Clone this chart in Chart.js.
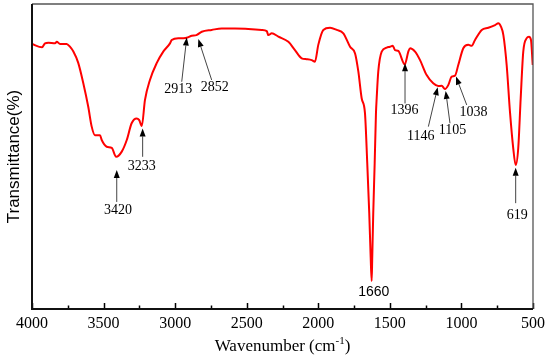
<!DOCTYPE html>
<html>
<head>
<meta charset="utf-8">
<script src="https://cdn.jsdelivr.net/npm/chart.js@4.4.0/dist/chart.umd.min.js"></script>
<style>
  html, body { margin: 0; padding: 0; background: #fff; }
</style>
</head>
<body>
<canvas id="ftirChart" width="550" height="359"></canvas>
<script>
// FTIR spectrum
const wavenumbers = [
  4000, 3930, 3909, 3886, 3839, 3827, 3804, 3758, 3735, 3711, 3677, 3642, 3607, 3583,
  3560, 3525, 3513, 3478, 3443, 3412, 3373, 3338, 3304, 3269, 3252, 3233, 3211, 3176,
  3129, 3083, 3036, 3024, 2978, 2943, 2913, 2884, 2852, 2814, 2745, 2675, 2582, 2489,
  2395, 2360, 2349, 2325, 2279, 2209, 2163, 2116, 2081, 2046, 2023, 2000, 1965, 1918,
  1871, 1825, 1778, 1743, 1720, 1697, 1674, 1658, 1644, 1634, 1627, 1623, 1616, 1606,
  1597, 1592, 1581, 1557, 1522, 1499, 1480, 1464, 1441, 1396, 1371, 1359, 1324, 1289,
  1243, 1197, 1162, 1138, 1115, 1092, 1068, 1045, 1022, 987, 952, 928, 905, 858,
  812, 765, 742, 724, 707, 684, 661, 638, 621, 603, 586, 568, 544, 528, 514, 502
];
const transmittance = [
  86.9, 85.8, 87.1, 87.3, 87.1, 87.6, 86.9, 86.9, 86.0, 84.4, 80.7, 74.1, 66.3, 59.8,
  57.0, 57.0, 55.4, 53.2, 52.8, 49.9, 51.6, 55.4, 60.9, 62.5, 62.0, 60.0, 68.5, 75.1,
  80.6, 84.4, 87.1, 88.2, 88.8, 88.8, 89.0, 89.6, 89.8, 90.9, 91.5, 92.0, 92.0, 91.8,
  91.5, 91.1, 89.8, 90.4, 89.3, 87.6, 84.9, 82.2, 81.9, 81.6, 81.1, 86.6, 91.5, 92.2,
  91.5, 90.4, 86.0, 83.8, 77.8, 69.1, 64.3, 47.9, 31.5, 17.0, 9.2, 17.0, 31.5, 47.9,
  64.3, 69.1, 77.8, 84.4, 85.7, 86.0, 86.3, 84.9, 84.6, 80.2, 84.4, 85.5, 84.4, 81.6,
  76.7, 74.0, 73.1, 73.2, 72.1, 73.4, 76.2, 76.5, 80.0, 85.5, 86.6, 86.3, 88.2, 91.5,
  92.2, 93.1, 93.7, 92.6, 89.8, 80.0, 64.7, 52.7, 47.2, 52.8, 69.1, 84.4, 88.8, 89.3, 88.2, 80.0
];
const xTickLabels = [4000, 3500, 3000, 2500, 2000, 1500, 1000, 500];
const peakLabels = ['3420', '3233', '2913', '2852', '1396', '1146', '1105', '1038', '619'];

// arrow geometry for the peak labels, in data units (wavenumber, %T)
const peakArrows = [
  { tip: [3408, 45.6], tail: [3408, 35.1], label: [3399, 32.5] },
  { tip: [3227, 59.2], tail: [3227, 49.9], label: [3234, 46.9] },
  { tip: [2919, 89.0], tail: [2954, 74.5], label: [2978, 72.0] },
  { tip: [2838, 88.5], tail: [2745, 75.1], label: [2724, 72.7] },
  { tip: [1394, 80.6], tail: [1394, 67.4], label: [1398, 65.2] },
  { tip: [1166, 72.7], tail: [1231, 59.8], label: [1284, 56.5] },
  { tip: [1110, 71.5], tail: [1080, 60.9], label: [1062, 58.7] },
  { tip: [1038, 76.2], tail: [963, 66.9], label: [916, 64.6] },
  { tip: [621, 46.3], tail: [621, 34.7], label: [610, 30.8] }
];

const serif = '"Liberation Serif", "Times New Roman", serif';
const sans = '"Liberation Sans", Arial, sans-serif';

const points = wavenumbers.map((w, i) => ({ x: w, y: transmittance[i] }));

// frame, inward ticks, arrows and axis titles
const ftirDecor = {
  id: 'ftirDecor',
  afterDraw(chart) {
    const ctx = chart.ctx;
    const xs = chart.scales.x, ys = chart.scales.y;
    const a = chart.chartArea;
    ctx.save();

    // ticks pointing into the plot
    ctx.strokeStyle = '#000';
    ctx.lineWidth = 1.5;
    xs.ticks.forEach(t => {
      const px = Math.round(xs.getPixelForValue(t.value)) + 0.5;
      const len = xTickLabels.includes(t.value) ? 6 : 3.5;
      ctx.beginPath();
      ctx.moveTo(px, a.bottom);
      ctx.lineTo(px, a.bottom - len);
      ctx.stroke();
    });

    // box
    ctx.strokeStyle = '#555';
    ctx.lineWidth = 1.3;
    ctx.beginPath();
    ctx.moveTo(a.left, a.top);
    ctx.lineTo(a.right, a.top);
    ctx.lineTo(a.right, a.bottom);
    ctx.stroke();
    ctx.strokeStyle = '#111';
    ctx.lineWidth = 2;
    ctx.beginPath();
    ctx.moveTo(a.left, a.top);
    ctx.lineTo(a.left, a.bottom);
    ctx.lineTo(a.right, a.bottom);
    ctx.stroke();

    // peak arrows
    peakArrows.forEach((p, i) => {
      const tx = xs.getPixelForValue(p.tip[0]), ty = ys.getPixelForValue(p.tip[1]);
      const bx = xs.getPixelForValue(p.tail[0]), by = ys.getPixelForValue(p.tail[1]);
      const ang = Math.atan2(ty - by, tx - bx);
      const headLen = 8, headW = 3;
      const hx = tx - Math.cos(ang) * headLen, hy = ty - Math.sin(ang) * headLen;
      ctx.strokeStyle = '#444';
      ctx.lineWidth = 1;
      ctx.beginPath();
      ctx.moveTo(bx, by);
      ctx.lineTo(hx, hy);
      ctx.stroke();
      ctx.fillStyle = '#000';
      ctx.beginPath();
      ctx.moveTo(tx, ty);
      ctx.lineTo(hx + Math.sin(ang) * headW, hy - Math.cos(ang) * headW);
      ctx.lineTo(hx - Math.sin(ang) * headW, hy + Math.cos(ang) * headW);
      ctx.closePath();
      ctx.fill();

      ctx.font = '14px ' + serif;
      ctx.textAlign = 'center';
      ctx.textBaseline = 'middle';
      ctx.fillText(peakLabels[i], xs.getPixelForValue(p.label[0]), ys.getPixelForValue(p.label[1]));
    });

    // 1660 band label (sans in the original)
    ctx.font = '14px ' + sans;
    ctx.textAlign = 'center';
    ctx.textBaseline = 'middle';
    ctx.fillText('1660', xs.getPixelForValue(1612), ys.getPixelForValue(5.5));

    // x title with superscript
    const cx = (a.left + a.right) / 2, baseY = 351;
    ctx.textAlign = 'left';
    ctx.textBaseline = 'alphabetic';
    ctx.font = '17px ' + serif;
    const partA = 'Wavenumber (cm', partC = ')';
    ctx.font = '11px ' + serif;
    const wB = ctx.measureText('-1').width;
    ctx.font = '17px ' + serif;
    const wA = ctx.measureText(partA).width, wC = ctx.measureText(partC).width;
    let x0 = cx - (wA + wB + wC) / 2;
    ctx.fillText(partA, x0, baseY);
    ctx.font = '11px ' + serif;
    ctx.fillText('-1', x0 + wA, baseY - 7);
    ctx.font = '17px ' + serif;
    ctx.fillText(partC, x0 + wA + wB, baseY);

    // y title
    ctx.translate(14, (a.top + a.bottom) / 2);
    ctx.rotate(-Math.PI / 2);
    ctx.font = '17px ' + sans;
    ctx.textAlign = 'center';
    ctx.textBaseline = 'middle';
    ctx.fillText('Transmittance(%)', 0, 0);
    ctx.restore();
  }
};

const ctx = document.getElementById('ftirChart').getContext('2d');
new Chart(ctx, {
  type: 'line',
  data: {
    datasets: [{
      data: points,
      borderColor: '#ff0000',
      borderWidth: 2,
      pointRadius: 0,
      fill: false,
      cubicInterpolationMode: 'monotone'
    }]
  },
  options: {
    responsive: false,
    animation: false,
    layout: { padding: { left: 32, right: 17, top: 4, bottom: 0 } },
    plugins: { legend: { display: false }, tooltip: { enabled: false } },
    scales: {
      x: {
        type: 'linear',
        reverse: true,
        min: 500,
        max: 4000,
        afterFit: s => { s.height = 50; },
        grid: { display: false, drawTicks: false },
        border: { display: false },
        ticks: {
          stepSize: 250,
          autoSkip: false,
          maxRotation: 0,
          padding: 5,
          color: '#000',
          font: { family: serif, size: 16 },
          callback: v => xTickLabels.includes(v) ? String(v) : ''
        }
      },
      y: {
        display: false,
        min: 0,
        max: 100
      }
    }
  },
  plugins: [ftirDecor]
});
</script>
</body>
</html>
